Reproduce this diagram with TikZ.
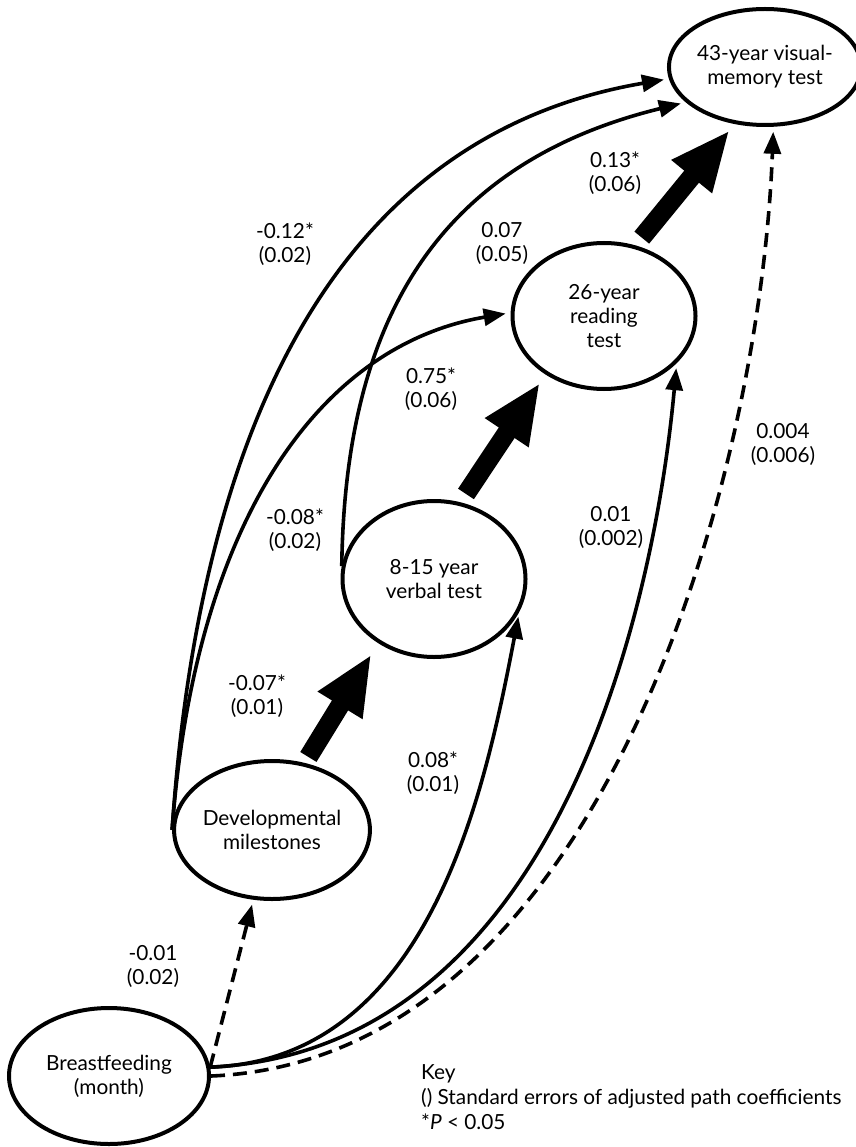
\documentclass[tikz,border=0pt]{standalone}
\usepackage{fontspec}
\setmainfont{Lato}
\usetikzlibrary{arrows.meta,shapes.geometric}
\begin{document}
\begin{tikzpicture}[x=1pt,y=-1pt,
  every node/.style={font=\fontsize{20.8}{24}\selectfont},
  var/.style={draw, ellipse, line width=4pt, inner sep=0pt, align=center},
  lab/.style={align=center, inner sep=0pt},
  conn/.style={line width=3.6pt, -{Triangle[length=22pt,width=17pt]}, shorten >=5pt},
  dconn/.style={conn, dash pattern=on 14pt off 8pt},
  bigarrow/.style={line width=19pt, -{Triangle[length=60pt,width=48pt]}},
]
\useasboundingbox (0,0) rectangle (855,1147);

% variables
\node[var, minimum width=175pt, minimum height=116pt] (v43) at (765,67) {43-year visual-\\memory test};
\node[var, minimum width=183pt, minimum height=146pt] (v26) at (604,316) {26-year\\reading\\test};
\node[var, minimum width=183pt, minimum height=156pt] (v815) at (434,579) {8-15 year\\verbal test};
\node[var, minimum width=181pt, minimum height=138pt] (dev) at (272,830) {Developmental\\milestones};
\node[var, minimum width=200pt, minimum height=136pt] (bf) at (109,1076) {Breastfeeding\\(month)};

% thick paths
\draw[bigarrow, shorten <=7pt, shorten >=13pt] (dev.64) -- (v815.229);
\draw[bigarrow, shorten <=10pt, shorten >=10pt] (v815.71) -- (v26.225);
\draw[bigarrow, shorten <=10pt, shorten >=8pt] (v26.66) -- (v43.242);

% thin paths
\draw[conn] (dev.west) .. controls (200,420) and (340,135) .. (v43.187);
\draw[conn] (v815.172) .. controls (345,330) and (430,165) .. (v43.204);
\draw[conn] (dev.west) .. controls (195,520) and (320,345) .. (v26.178);
\draw[conn] (bf.5) .. controls (430,1060) and (485,790) .. (v815.339);
\draw[conn] (bf.5) .. controls (560,1050) and (655,600) .. (v26.327);
\draw[dconn] (bf.east) .. controls (600,1060) and (760,480) .. (v43.278);
\draw[dconn] (bf.5) -- (dev.255);

% coefficient labels
\node[lab] (c1) at (615,173) {0.13*\\(0.06)};
\node[lab] (c2) at (285,244) {-0.12*\\(0.02)};
\node[lab] (c3) at (502,243) {0.07\\(0.05)};
\node[lab] (c4) at (431,389) {0.75*\\(0.06)};
\node[lab] (c5) at (783,444) {0.004\\(0.006)};
\node[lab] (c6) at (611,527) {0.01\\(0.002)};
\node[lab] (c7) at (295,530) {-0.08*\\(0.02)};
\node[lab] (c8) at (257,696) {-0.07*\\(0.01)};
\node[lab] (c9) at (433,773) {0.08*\\(0.01)};
\node[lab] (c10) at (153,966) {-0.01\\(0.02)};

% key
\node[align=left, anchor=north west, inner sep=0pt, font=\fontsize{20.8}{25}\selectfont] (key) at (421,1064)
  {Key\\() Standard errors of adjusted path coefficients\\*\textit{P} < 0.05};
\end{tikzpicture}
\end{document}
